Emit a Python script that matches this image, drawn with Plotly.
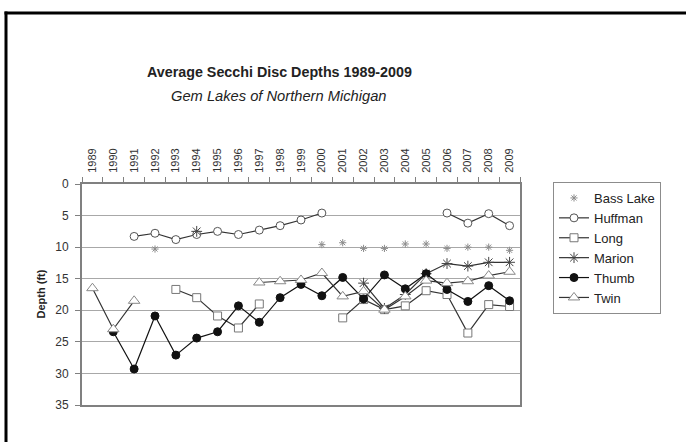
import plotly.graph_objects as go

years = [str(y) for y in range(1989, 2010)]

bass_lake = [None, None, None, 10.3, None, None, None, None, None, None, None,
             9.6, 9.3, 10.2, 10.2, 9.5, 9.5, 10.2, 10.0, 10.0, 10.5]
huffman = [None, None, 8.3, 7.8, 8.8, 8.0, 7.5, 8.0, 7.3, 6.6, 5.7,
           4.6, None, None, None, None, None, 4.6, 6.2, 4.7, 6.6]
long_lake = [None, None, None, None, 16.7, 18.0, 20.9, 22.8, 19.0, None, None,
             None, 21.2, 18.3, 19.9, 19.3, 16.9, 17.5, 23.6, 19.1, 19.4]
marion = [None, None, None, None, None, 7.5, None, None, None, None, None,
          None, None, 15.7, 19.7, 17.5, 14.2, 12.6, 13.0, 12.4, 12.4]
thumb = [None, 23.4, 29.3, 20.9, 27.1, 24.4, 23.4, 19.3, 21.9, 18.0, 15.9,
         17.7, 14.8, 18.2, 14.4, 16.6, 14.2, 16.7, 18.6, 16.1, 18.5]
twin = [16.5, 23.0, 18.5, None, None, None, None, None, 15.6, 15.4, 15.2,
        14.1, 17.8, 17.0, 19.9, 17.8, 15.3, 15.7, 15.4, 14.5, 13.9]

y_ticks = [0, 5, 10, 15, 20, 25, 30, 35]

W, H = 686, 442
ML, MT = 82, 184
PW, PH = 438, 221
MR = W - ML - PW
MB = H - MT - PH


def px(x_page):
    return (x_page - ML) / PW


def py(y_page):
    return 1 - (y_page - MT) / PH


FONT = "Liberation Sans, Arial, sans-serif"

fig = go.Figure()

fig.add_trace(go.Scatter(
    x=years, y=bass_lake, name="Bass Lake", mode="markers",
    marker=dict(symbol="asterisk-open", size=6, color="#8c8c8c",
                line=dict(color="#8c8c8c", width=1)),
))
fig.add_trace(go.Scatter(
    x=years, y=huffman, name="Huffman", mode="lines+markers",
    line=dict(color="#333333", width=1.2),
    marker=dict(symbol="circle", size=8, color="white",
                line=dict(color="#555555", width=1)),
))
fig.add_trace(go.Scatter(
    x=years, y=long_lake, name="Long", mode="lines+markers",
    line=dict(color="#333333", width=1.2),
    marker=dict(symbol="square", size=8, color="white",
                line=dict(color="#777777", width=1)),
))
fig.add_trace(go.Scatter(
    x=years, y=marion, name="Marion", mode="lines+markers",
    line=dict(color="#333333", width=1.2),
    marker=dict(symbol="asterisk-open", size=9, color="#444444",
                line=dict(color="#444444", width=1)),
))
fig.add_trace(go.Scatter(
    x=years, y=thumb, name="Thumb", mode="lines+markers",
    line=dict(color="#111111", width=1.2),
    marker=dict(symbol="circle", size=8, color="#111111",
                line=dict(color="#111111", width=1)),
))
fig.add_trace(go.Scatter(
    x=years, y=twin, name="Twin", mode="lines+markers",
    line=dict(color="#333333", width=1.2),
    marker=dict(symbol="triangle-up", size=10, color="white",
                line=dict(color="#888888", width=1)),
))

frame = dict(color="black", width=3)

fig.update_layout(
    width=W, height=H,
    margin=dict(l=ML, r=MR, t=MT, b=MB, pad=0),
    paper_bgcolor="white", plot_bgcolor="white",
    font=dict(family=FONT, color="#222222"),
    showlegend=True,
    legend=dict(
        x=px(553), y=py(182), xanchor="left", yanchor="top",
        bordercolor="#8c8c8c", borderwidth=1, bgcolor="white",
        font=dict(family=FONT, size=13, color="#222222"),
        itemwidth=30, tracegroupgap=0,
    ),
    xaxis=dict(
        type="category", categoryorder="array", categoryarray=years,
        side="top", range=[-0.5, 20.5],
        tickson="boundaries", ticks="outside", ticklen=5,
        tickcolor="#808080", tickwidth=1, ticklabelstandoff=7,
        tickangle=-90, tickfont=dict(family=FONT, size=11, color="#333333"),
        showline=True, linecolor="#808080", linewidth=2, mirror=True,
        showgrid=False, zeroline=False,
    ),
    yaxis=dict(
        range=[35, 0], tickmode="array", tickvals=y_ticks,
        ticktext=[str(v) for v in y_ticks],
        ticks="outside", ticklen=5, tickcolor="#808080", tickwidth=1,
        ticklabelstandoff=4,
        tickfont=dict(family=FONT, size=12, color="#333333"),
        showline=True, linecolor="#808080", linewidth=2, mirror=True,
        showgrid=True, gridcolor="#a8a8a8", gridwidth=1, zeroline=False,
    ),
    annotations=[
        dict(text="<b>Average Secchi Disc Depths 1989-2009</b>", xref="paper", yref="paper",
             x=px(279), y=py(72), xanchor="center", yanchor="middle", showarrow=False,
             font=dict(family=FONT, size=14.3, color="#222222")),
        dict(text="<i>Gem Lakes of Northern Michigan</i>", xref="paper", yref="paper",
             x=px(279), y=py(96), xanchor="center", yanchor="middle", showarrow=False,
             font=dict(family=FONT, size=14.7, color="#222222")),
        dict(text="<b>Depth (ft)</b>", xref="paper", yref="paper",
             x=px(40), y=0.5, xanchor="center", yanchor="middle", showarrow=False,
             textangle=-90, font=dict(family=FONT, size=11, color="#222222")),
    ],
    shapes=[
        dict(type="line", xref="paper", yref="paper",
             x0=px(4.5), x1=px(W + 5), y0=py(13), y1=py(13),
             line=frame, layer="above"),
        dict(type="line", xref="paper", yref="paper",
             x0=px(6), x1=px(6), y0=py(11.5), y1=py(H + 5),
             line=frame, layer="above"),
    ],
)

fig.write_html(
    "out.html",
    config={"displayModeBar": False},
    post_script="document.body.style.margin='0';document.body.style.padding='0';",
)
